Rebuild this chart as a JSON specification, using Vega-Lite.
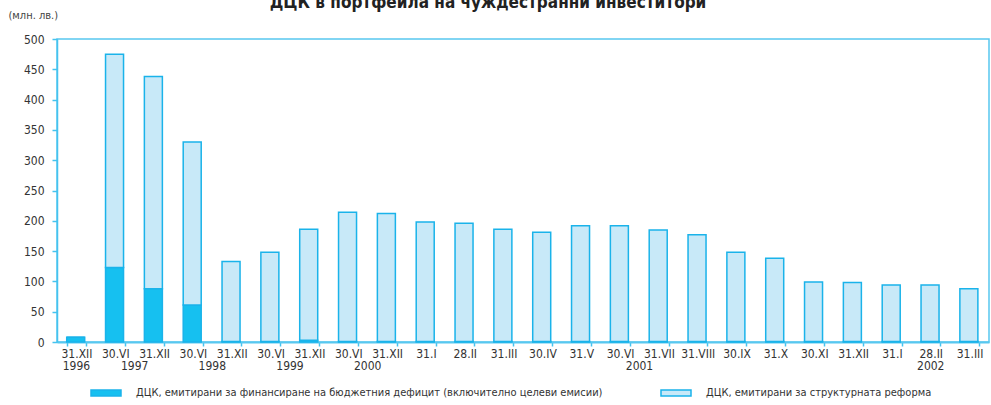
{
  "$schema": "https://vega.github.io/schema/vega-lite/v6.json",
  "width": 932,
  "height": 303,
  "autosize": "none",
  "padding": {"left": 57, "top": 39, "right": 2, "bottom": 63},
  "background": "white",
  "title": {
    "text": "ДЦК  в  портфейла  на  чуждестранни  инвеститори",
    "fontSize": 17,
    "fontWeight": "bold",
    "color": "#222222",
    "anchor": "middle",
    "frame": "group",
    "baseline": "alphabetic",
    "offset": -16,
    "dx": -35
  },
  "datasets": {
    "bars": [
      {"date": "31.XII 1996", "series": "ДЦК, емитирани за финансиране на бюджетния дефицит (включително целеви емисии)", "value": 8},
      {"date": "31.XII 1996", "series": "ДЦК, емитирани за структурната реформа", "value": 0},
      {"date": "30.VI 1997", "series": "ДЦК, емитирани за финансиране на бюджетния дефицит (включително целеви емисии)", "value": 123},
      {"date": "30.VI 1997", "series": "ДЦК, емитирани за структурната реформа", "value": 352},
      {"date": "31.XII 1997", "series": "ДЦК, емитирани за финансиране на бюджетния дефицит (включително целеви емисии)", "value": 88},
      {"date": "31.XII 1997", "series": "ДЦК, емитирани за структурната реформа", "value": 350},
      {"date": "30.VI 1998", "series": "ДЦК, емитирани за финансиране на бюджетния дефицит (включително целеви емисии)", "value": 61},
      {"date": "30.VI 1998", "series": "ДЦК, емитирани за структурната реформа", "value": 269},
      {"date": "31.XII 1998", "series": "ДЦК, емитирани за финансиране на бюджетния дефицит (включително целеви емисии)", "value": 1},
      {"date": "31.XII 1998", "series": "ДЦК, емитирани за структурната реформа", "value": 132},
      {"date": "30.VI 1999", "series": "ДЦК, емитирани за финансиране на бюджетния дефицит (включително целеви емисии)", "value": 1},
      {"date": "30.VI 1999", "series": "ДЦК, емитирани за структурната реформа", "value": 147},
      {"date": "31.XII 1999", "series": "ДЦК, емитирани за финансиране на бюджетния дефицит (включително целеви емисии)", "value": 3},
      {"date": "31.XII 1999", "series": "ДЦК, емитирани за структурната реформа", "value": 183},
      {"date": "30.VI 2000", "series": "ДЦК, емитирани за финансиране на бюджетния дефицит (включително целеви емисии)", "value": 1},
      {"date": "30.VI 2000", "series": "ДЦК, емитирани за структурната реформа", "value": 213},
      {"date": "31.XII 2000", "series": "ДЦК, емитирани за финансиране на бюджетния дефицит (включително целеви емисии)", "value": 1},
      {"date": "31.XII 2000", "series": "ДЦК, емитирани за структурната реформа", "value": 211},
      {"date": "31.I 2001", "series": "ДЦК, емитирани за финансиране на бюджетния дефицит (включително целеви емисии)", "value": 1},
      {"date": "31.I 2001", "series": "ДЦК, емитирани за структурната реформа", "value": 197},
      {"date": "28.II 2001", "series": "ДЦК, емитирани за финансиране на бюджетния дефицит (включително целеви емисии)", "value": 1},
      {"date": "28.II 2001", "series": "ДЦК, емитирани за структурната реформа", "value": 195},
      {"date": "31.III 2001", "series": "ДЦК, емитирани за финансиране на бюджетния дефицит (включително целеви емисии)", "value": 1},
      {"date": "31.III 2001", "series": "ДЦК, емитирани за структурната реформа", "value": 185},
      {"date": "30.IV 2001", "series": "ДЦК, емитирани за финансиране на бюджетния дефицит (включително целеви емисии)", "value": 1},
      {"date": "30.IV 2001", "series": "ДЦК, емитирани за структурната реформа", "value": 180},
      {"date": "31.V 2001", "series": "ДЦК, емитирани за финансиране на бюджетния дефицит (включително целеви емисии)", "value": 1},
      {"date": "31.V 2001", "series": "ДЦК, емитирани за структурната реформа", "value": 191},
      {"date": "30.VI 2001", "series": "ДЦК, емитирани за финансиране на бюджетния дефицит (включително целеви емисии)", "value": 1},
      {"date": "30.VI 2001", "series": "ДЦК, емитирани за структурната реформа", "value": 191},
      {"date": "31.VII 2001", "series": "ДЦК, емитирани за финансиране на бюджетния дефицит (включително целеви емисии)", "value": 1},
      {"date": "31.VII 2001", "series": "ДЦК, емитирани за структурната реформа", "value": 184},
      {"date": "31.VIII 2001", "series": "ДЦК, емитирани за финансиране на бюджетния дефицит (включително целеви емисии)", "value": 1},
      {"date": "31.VIII 2001", "series": "ДЦК, емитирани за структурната реформа", "value": 176},
      {"date": "30.IX 2001", "series": "ДЦК, емитирани за финансиране на бюджетния дефицит (включително целеви емисии)", "value": 1},
      {"date": "30.IX 2001", "series": "ДЦК, емитирани за структурната реформа", "value": 147},
      {"date": "31.X 2001", "series": "ДЦК, емитирани за финансиране на бюджетния дефицит (включително целеви емисии)", "value": 1},
      {"date": "31.X 2001", "series": "ДЦК, емитирани за структурната реформа", "value": 137},
      {"date": "30.XI 2001", "series": "ДЦК, емитирани за финансиране на бюджетния дефицит (включително целеви емисии)", "value": 1},
      {"date": "30.XI 2001", "series": "ДЦК, емитирани за структурната реформа", "value": 98},
      {"date": "31.XII 2001", "series": "ДЦК, емитирани за финансиране на бюджетния дефицит (включително целеви емисии)", "value": 1},
      {"date": "31.XII 2001", "series": "ДЦК, емитирани за структурната реформа", "value": 97},
      {"date": "31.I 2002", "series": "ДЦК, емитирани за финансиране на бюджетния дефицит (включително целеви емисии)", "value": 1},
      {"date": "31.I 2002", "series": "ДЦК, емитирани за структурната реформа", "value": 93},
      {"date": "28.II 2002", "series": "ДЦК, емитирани за финансиране на бюджетния дефицит (включително целеви емисии)", "value": 1},
      {"date": "28.II 2002", "series": "ДЦК, емитирани за структурната реформа", "value": 93},
      {"date": "31.III 2002", "series": "ДЦК, емитирани за финансиране на бюджетния дефицит (включително целеви емисии)", "value": 1},
      {"date": "31.III 2002", "series": "ДЦК, емитирани за структурната реформа", "value": 87}
    ],
    "years": [
      {"date": "31.XII 1996", "year": "1996", "shift": 0},
      {"date": "30.VI 1997", "year": "1997", "shift": 0.5},
      {"date": "30.VI 1998", "year": "1998", "shift": 0.5},
      {"date": "30.VI 1999", "year": "1999", "shift": 0.5},
      {"date": "30.VI 2000", "year": "2000", "shift": 0.5},
      {"date": "30.VI 2001", "year": "2001", "shift": 0.5},
      {"date": "28.II 2002", "year": "2002", "shift": 0}
    ]
  },
  "encoding": {
    "x": {
      "field": "date",
      "type": "nominal",
      "scale": {
        "domain": ["31.XII 1996", "30.VI 1997", "31.XII 1997", "30.VI 1998", "31.XII 1998", "30.VI 1999", "31.XII 1999", "30.VI 2000", "31.XII 2000", "31.I 2001", "28.II 2001", "31.III 2001", "30.IV 2001", "31.V 2001", "30.VI 2001", "31.VII 2001", "31.VIII 2001", "30.IX 2001", "31.X 2001", "30.XI 2001", "31.XII 2001", "31.I 2002", "28.II 2002", "31.III 2002"],
        "paddingInner": 0.5,
        "paddingOuter": 0.25
      },
      "axis": {
        "title": null,
        "labelExpr": "isString(datum.value) ? split(datum.value, ' ')[0] : ''",
        "labelAngle": 0,
        "labelFontSize": 12,
        "labelColor": "#333333",
        "labelPadding": 2,
        "labelOverlap": false,
        "tickBand": "extent",
        "tickSize": 4,
        "tickColor": "#45c3ef",
        "tickWidth": 1.5,
        "domainColor": "#58c8f0",
        "domainWidth": 2
      }
    }
  },
  "layer": [
    {
      "data": {"name": "bars"},
      "mark": {"type": "bar", "stroke": "#1ab3ea", "strokeWidth": 1.5},
      "encoding": {
        "y": {
          "field": "value",
          "type": "quantitative",
          "stack": "zero",
          "scale": {"domain": [0, 500], "nice": false},
          "axis": {
            "values": [0, 50, 100, 150, 200, 250, 300, 350, 400, 450, 500],
            "labelOverlap": false,
            "grid": false,
            "title": "(млн. лв.)",
            "titleAngle": 0,
            "titleAlign": "left",
            "titleBaseline": "middle",
            "titleX": -49,
            "titleY": -24,
            "titleFontSize": 11,
            "titleFontWeight": "normal",
            "titleColor": "#444444",
            "labelFontSize": 12,
            "labelColor": "#333333",
            "labelPadding": 8,
            "tickSize": 5,
            "tickColor": "#45c3ef",
            "tickWidth": 1.5,
            "domainColor": "#45c3ef",
            "domainWidth": 1.5
          }
        },
        "color": {
          "field": "series",
          "type": "nominal",
          "scale": {
            "domain": ["ДЦК, емитирани за финансиране на бюджетния дефицит (включително целеви емисии)", "ДЦК, емитирани за структурната реформа"],
            "range": ["#16c0f0", "#c8e9f8"]
          },
          "legend": {
            "orient": "none",
            "legendX": 33,
            "legendY": 338,
            "direction": "horizontal",
            "columns": 2,
            "columnPadding": 55,
            "title": null,
            "symbolType": "M-1,-0.2H1V0.2H-1Z",
            "symbolSize": 900,
            "symbolStrokeColor": "#1ab3ea",
            "symbolStrokeWidth": 1.5,
            "labelFontSize": 11,
            "labelColor": "#333333",
            "labelLimit": 700,
            "labelOffset": 14
          }
        },
        "order": {"field": "series", "sort": "descending"}
      }
    },
    {
      "data": {"name": "years"},
      "mark": {"type": "text", "fontSize": 12, "color": "#333333", "baseline": "middle", "dy": 24},
      "encoding": {
        "xOffset": {"field": "shift", "type": "quantitative", "scale": {"domain": [0, 1], "range": [9.71, 48.54]}},
        "y": {
          "datum": 0,
          "type": "quantitative",
          "axis": {
            "values": [0, 50, 100, 150, 200, 250, 300, 350, 400, 450, 500],
            "labelOverlap": false,
            "grid": false,
            "title": "(млн. лв.)",
            "titleAngle": 0,
            "titleAlign": "left",
            "titleBaseline": "middle",
            "titleX": -49,
            "titleY": -24,
            "titleFontSize": 11,
            "titleFontWeight": "normal",
            "titleColor": "#444444",
            "labelFontSize": 12,
            "labelColor": "#333333",
            "labelPadding": 8,
            "tickSize": 5,
            "tickColor": "#45c3ef",
            "tickWidth": 1.5,
            "domainColor": "#45c3ef",
            "domainWidth": 1.5
          }
        },
        "text": {"field": "year"}
      }
    }
  ],
  "config": {
    "font": "DejaVu Sans Condensed, Liberation Sans, sans-serif",
    "view": {"stroke": "#58c8f0", "strokeWidth": 1.5}
  }
}
